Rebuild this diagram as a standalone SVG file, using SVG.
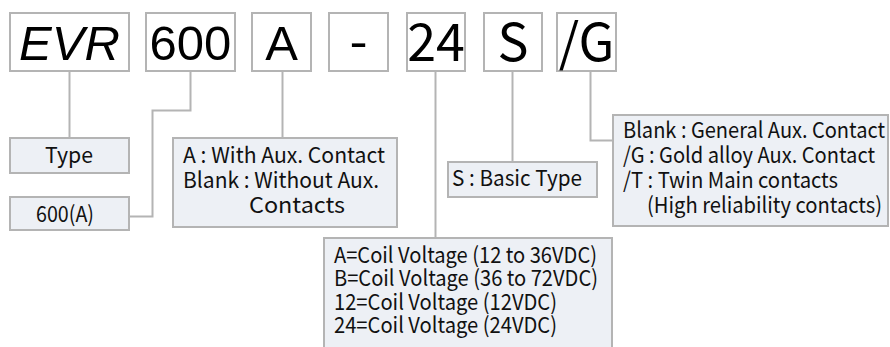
<svg xmlns="http://www.w3.org/2000/svg" width="890" height="347" viewBox="0 0 890 347">
<style>
.code{fill:#fff;stroke:#b4b4b4;stroke-width:2}
.desc{fill:#edf0f5;stroke:#b4b4b4;stroke-width:2}
.conn{fill:none;stroke:#b4b4b4;stroke-width:2}
.big{font-family:"Liberation Sans",Arial,sans-serif;font-size:49px;fill:#000}
.bigs{font-family:"Noto Sans CJK JP","Noto Sans",sans-serif;font-size:52px;fill:#000}
.t{font-family:"Noto Sans CJK JP","Noto Sans",sans-serif;font-size:22px;fill:#111}
</style>
<rect width="890" height="347" fill="#fff"/>
<g id="connectors">
<path class="conn" d="M69.500 71V138"/>
<path class="conn" d="M190.500 71V110.500H152.500V216.500H129"/>
<path class="conn" d="M282.500 71V138"/>
<path class="conn" d="M435.500 71V238"/>
<path class="conn" d="M512.500 71V162"/>
<path class="conn" d="M590.500 71V140.500H613"/>
</g>
<g id="code-evr"><rect class="code" x="10" y="13" width="119" height="58"/><text class="big" x="69.500" y="60" text-anchor="middle" font-style="italic">EVR</text></g>
<g id="code-600"><rect class="code" x="146" y="13" width="89" height="58"/><text class="big" x="190.500" y="60" text-anchor="middle">600</text></g>
<g id="code-a"><rect class="code" x="252" y="13" width="59" height="58"/><text class="big" x="281.500" y="60" text-anchor="middle">A</text></g>
<g id="code-dash"><rect class="code" x="329" y="13" width="59" height="58"/><text class="bigs" x="358.500" y="60" text-anchor="middle">-</text></g>
<g id="code-24"><rect class="code" x="407" y="13" width="58" height="58"/><text class="bigs" x="436" y="61" text-anchor="middle">24</text></g>
<g id="code-s"><rect class="code" x="484" y="13" width="58" height="58"/><text class="bigs" x="513" y="61" text-anchor="middle">S</text></g>
<g id="code-g"><rect class="code" x="557" y="13" width="59" height="58"/><text class="bigs" x="586.500" y="61" text-anchor="middle">/G</text></g>
<g id="desc-type"><rect class="desc" x="10" y="138" width="119" height="35"/><text class="t" x="45" y="163" textLength="48" lengthAdjust="spacingAndGlyphs">Type</text></g>
<g id="desc-600a"><rect class="desc" x="10" y="197" width="119" height="33"/><text class="t" x="36" y="222" textLength="58" lengthAdjust="spacingAndGlyphs">600(A)</text></g>
<g id="desc-a"><rect class="desc" x="173" y="138" width="224" height="89"/>
<text class="t" x="183" y="163" textLength="202" lengthAdjust="spacingAndGlyphs">A : With Aux. Contact</text>
<text class="t" x="183" y="188" textLength="196" lengthAdjust="spacingAndGlyphs">Blank : Without Aux.</text>
<text class="t" x="249" y="213" textLength="96" lengthAdjust="spacingAndGlyphs">Contacts</text></g>
<g id="desc-coil"><rect class="desc" x="324" y="238" width="288" height="120"/>
<text class="t" x="334" y="263" textLength="263" lengthAdjust="spacingAndGlyphs">A=Coil Voltage (12 to 36VDC)</text>
<text class="t" x="334" y="286" textLength="264" lengthAdjust="spacingAndGlyphs">B=Coil Voltage (36 to 72VDC)</text>
<text class="t" x="334" y="309.500" textLength="223" lengthAdjust="spacingAndGlyphs">12=Coil Voltage (12VDC)</text>
<text class="t" x="334" y="333" textLength="223" lengthAdjust="spacingAndGlyphs">24=Coil Voltage (24VDC)</text></g>
<g id="desc-s"><rect class="desc" x="448" y="162" width="149" height="35"/><text class="t" x="452" y="186" textLength="130" lengthAdjust="spacingAndGlyphs">S : Basic Type</text></g>
<g id="desc-g"><rect class="desc" x="613" y="115" width="275" height="111"/>
<text class="t" x="623" y="137.500" textLength="262" lengthAdjust="spacingAndGlyphs">Blank : General Aux. Contact</text>
<text class="t" x="623" y="162.500" textLength="252" lengthAdjust="spacingAndGlyphs">/G : Gold alloy Aux. Contact</text>
<text class="t" x="623" y="187.500" textLength="215" lengthAdjust="spacingAndGlyphs">/T : Twin Main contacts</text>
<text class="t" x="647" y="212.500" textLength="235" lengthAdjust="spacingAndGlyphs">(High reliability contacts)</text></g>
</svg>
